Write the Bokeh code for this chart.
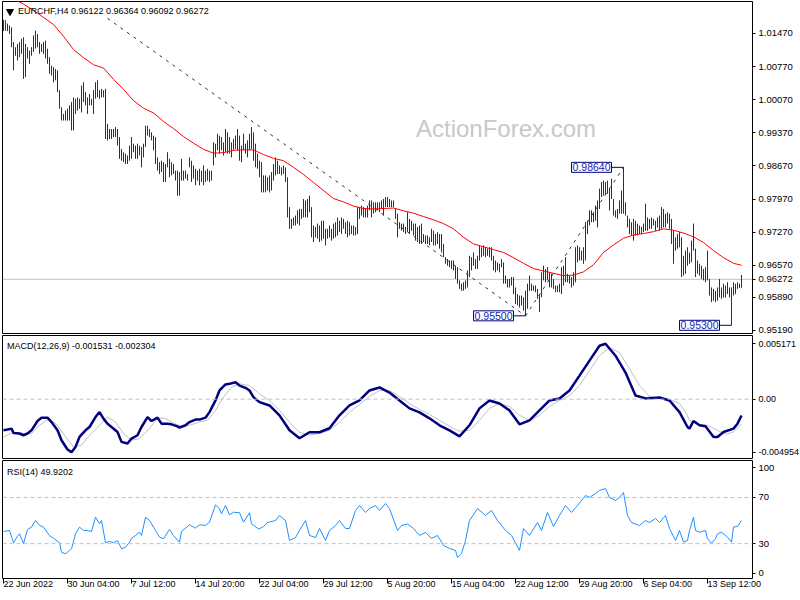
from bokeh.plotting import figure
from bokeh.layouts import column
from bokeh.models import Range1d, FixedTicker, Label, Span, PrintfTickFormatter
from bokeh.embed import file_html
from bokeh.resources import INLINE

# ---------------- data ----------------
symbol_title = "EURCHF,H4  0.96122 0.96364 0.96092 0.96272"
last_price = 0.96272

highs = [
1.0176,1.0175,1.0168,1.0164,1.0160,1.0129,1.0118,1.0125,1.0129,1.0136,
1.0139,1.0125,1.0118,1.0111,1.0118,1.0143,1.0153,1.0146,1.0129,1.0125,
1.0129,1.0132,1.0115,1.0097,1.0079,1.0076,1.0072,1.0069,1.0027,0.9991,
0.9977,0.9984,0.9988,0.9995,1.0002,1.0012,1.0009,1.0012,1.0009,1.0037,
1.0044,1.0023,1.0012,1.0019,1.0009,1.0027,1.0044,1.0048,1.0027,1.0030,
1.0027,1.0030,0.9956,0.9945,0.9945,0.9945,0.9949,0.9945,0.9928,0.9903,
0.9896,0.9893,0.9889,0.9910,0.9928,0.9914,0.9910,0.9914,0.9910,0.9907,
0.9914,0.9952,0.9952,0.9945,0.9938,0.9931,0.9928,0.9885,0.9875,0.9878,
0.9875,0.9871,0.9896,0.9882,0.9875,0.9871,0.9857,0.9857,0.9854,0.9882,
0.9857,0.9857,0.9850,0.9885,0.9878,0.9868,0.9861,0.9857,0.9861,0.9857,
0.9868,0.9857,0.9861,0.9857,0.9857,0.9917,0.9914,0.9935,0.9931,0.9928,
0.9917,0.9945,0.9938,0.9928,0.9917,0.9924,0.9931,0.9945,0.9931,0.9910,
0.9935,0.9914,0.9921,0.9935,0.9949,0.9938,0.9914,0.9893,0.9878,0.9875,
0.9847,0.9847,0.9843,0.9847,0.9854,0.9871,0.9885,0.9878,0.9868,0.9864,
0.9868,0.9864,0.9843,0.9780,0.9755,0.9758,0.9762,0.9773,0.9776,0.9776,
0.9797,0.9794,0.9797,0.9804,0.9780,0.9741,0.9738,0.9745,0.9741,0.9751,
0.9751,0.9734,0.9734,0.9741,0.9734,0.9745,0.9748,0.9758,0.9751,0.9758,
0.9755,0.9748,0.9751,0.9748,0.9741,0.9741,0.9738,0.9780,0.9780,0.9783,
0.9780,0.9776,0.9783,0.9794,0.9794,0.9790,0.9790,0.9790,0.9790,0.9794,
0.9797,0.9801,0.9801,0.9797,0.9794,0.9794,0.9776,0.9766,0.9748,0.9745,
0.9745,0.9738,0.9769,0.9755,0.9751,0.9745,0.9745,0.9738,0.9741,0.9745,
0.9723,0.9720,0.9720,0.9716,0.9734,0.9730,0.9723,0.9727,0.9723,0.9723,
0.9702,0.9674,0.9670,0.9667,0.9667,0.9667,0.9656,0.9653,0.9625,0.9618,
0.9621,0.9625,0.9646,0.9677,0.9674,0.9684,0.9670,0.9677,0.9699,0.9695,
0.9699,0.9695,0.9692,0.9695,0.9695,0.9677,0.9667,0.9663,0.9660,0.9670,
0.9663,0.9635,0.9628,0.9628,0.9632,0.9632,0.9610,0.9596,0.9593,0.9593,
0.9589,0.9603,0.9618,0.9635,0.9618,0.9614,0.9614,0.9607,0.9596,0.9642,
0.9656,0.9649,0.9653,0.9642,0.9639,0.9628,0.9614,0.9614,0.9618,0.9653,
0.9656,0.9674,0.9639,0.9635,0.9632,0.9642,0.9695,0.9699,0.9695,0.9688,
0.9695,0.9748,0.9751,0.9773,0.9773,0.9769,0.9783,0.9794,0.9819,0.9833,
0.9836,0.9833,0.9836,0.9819,0.9840,0.9797,0.9773,0.9776,0.9794,0.9815,
0.9864,0.9790,0.9762,0.9755,0.9748,0.9755,0.9751,0.9745,0.9741,0.9738,
0.9745,0.9787,0.9758,0.9755,0.9758,0.9755,0.9751,0.9758,0.9762,0.9780,
0.9776,0.9766,0.9769,0.9766,0.9755,0.9730,0.9716,0.9723,0.9727,0.9716,
0.9677,0.9688,0.9695,0.9684,0.9709,0.9745,0.9692,0.9667,0.9660,0.9656,
0.9649,0.9653,0.9688,0.9628,0.9610,0.9607,0.9603,0.9610,0.9628,0.9610,
0.9618,0.9614,0.9621,0.9610,0.9610,0.9621,0.9618,0.9621,0.9618,0.96364,
]

lows = [
1.0152,1.0153,1.0152,1.0146,1.0118,1.0069,1.0100,1.0090,1.0097,1.0104,
1.0051,1.0055,1.0094,1.0083,1.0100,1.0108,1.0115,1.0118,1.0104,1.0108,
1.0104,1.0094,1.0083,1.0062,1.0058,1.0044,1.0048,1.0023,0.9988,0.9963,
0.9963,0.9963,0.9963,0.9963,0.9942,0.9942,0.9977,0.9984,0.9988,0.9980,
1.0002,0.9995,0.9977,0.9995,0.9995,0.9977,1.0009,1.0012,1.0009,1.0012,
1.0012,0.9924,0.9921,0.9924,0.9924,0.9928,0.9928,0.9910,0.9882,0.9878,
0.9875,0.9871,0.9871,0.9878,0.9882,0.9896,0.9882,0.9882,0.9889,0.9864,
0.9885,0.9907,0.9931,0.9928,0.9921,0.9900,0.9871,0.9857,0.9850,0.9854,
0.9833,0.9833,0.9864,0.9843,0.9847,0.9850,0.9836,0.9804,0.9804,0.9836,
0.9836,0.9840,0.9836,0.9864,0.9833,0.9840,0.9826,0.9836,0.9826,0.9833,
0.9826,0.9833,0.9836,0.9833,0.9836,0.9868,0.9885,0.9900,0.9893,0.9900,
0.9889,0.9896,0.9893,0.9893,0.9885,0.9900,0.9903,0.9900,0.9878,0.9875,
0.9900,0.9893,0.9885,0.9900,0.9903,0.9878,0.9864,0.9861,0.9843,0.9811,
0.9811,0.9811,0.9815,0.9811,0.9815,0.9836,0.9847,0.9850,0.9850,0.9847,
0.9850,0.9833,0.9758,0.9734,0.9734,0.9741,0.9741,0.9745,0.9741,0.9755,
0.9758,0.9758,0.9758,0.9769,0.9716,0.9706,0.9716,0.9713,0.9706,0.9709,
0.9713,0.9699,0.9713,0.9716,0.9709,0.9713,0.9716,0.9720,0.9727,0.9723,
0.9734,0.9723,0.9716,0.9720,0.9723,0.9720,0.9720,0.9723,0.9755,0.9762,
0.9758,0.9758,0.9758,0.9773,0.9758,0.9766,0.9769,0.9773,0.9769,0.9776,
0.9762,0.9780,0.9780,0.9780,0.9780,0.9780,0.9755,0.9716,0.9734,0.9730,
0.9727,0.9723,0.9727,0.9723,0.9730,0.9720,0.9709,0.9706,0.9702,0.9702,
0.9706,0.9702,0.9702,0.9699,0.9706,0.9699,0.9699,0.9702,0.9692,0.9684,
0.9674,0.9660,0.9656,0.9653,0.9649,0.9646,0.9628,0.9618,0.9607,0.9603,
0.9603,0.9607,0.9610,0.9632,0.9646,0.9656,0.9649,0.9649,0.9667,0.9674,
0.9677,0.9674,0.9677,0.9674,0.9667,0.9646,0.9642,0.9646,0.9642,0.9653,
0.9618,0.9618,0.9610,0.9610,0.9614,0.9596,0.9575,0.9572,0.9568,0.9572,
0.9561,0.9550,0.9565,0.9603,0.9603,0.9603,0.9600,0.9586,0.9558,0.9589,
0.9625,0.9621,0.9625,0.9610,0.9610,0.9607,0.9600,0.9600,0.9600,0.9596,
0.9614,0.9621,0.9621,0.9618,0.9610,0.9614,0.9621,0.9663,0.9667,0.9667,
0.9660,0.9667,0.9723,0.9741,0.9748,0.9748,0.9751,0.9737,0.9776,0.9801,
0.9804,0.9808,0.9808,0.9773,0.9797,0.9762,0.9758,0.9755,0.9766,0.9766,
0.9766,0.9762,0.9737,0.9723,0.9720,0.9709,0.9720,0.9720,0.9723,0.9723,
0.9727,0.9730,0.9730,0.9734,0.9734,0.9741,0.9730,0.9737,0.9730,0.9734,
0.9737,0.9737,0.9745,0.9734,0.9702,0.9660,0.9688,0.9692,0.9695,0.9632,
0.9635,0.9639,0.9656,0.9660,0.9663,0.9688,0.9632,0.9639,0.9635,0.9628,
0.9625,0.9621,0.9625,0.9593,0.9579,0.9582,0.9579,0.9582,0.9589,0.9586,
0.9589,0.9589,0.9596,0.9589,0.9530,0.9593,0.9596,0.9607,0.9609,0.96092,
]
bar_idx = list(range(len(highs)))

# red moving average, sampled every 5 bars
ma_idx = list(range(0, 370, 5)) + [369]
ma_val = [
1.0234,1.0221,1.0209,1.0196,1.0181,1.0166,1.0141,1.0113,1.0096,1.0081,
1.0074,1.0050,1.0029,1.0005,0.9989,0.9979,0.9961,0.9946,0.9929,0.9915,
0.9902,0.9894,0.9895,0.9900,0.9901,0.9901,0.9891,0.9883,0.9878,0.9864,
0.9849,0.9832,0.9815,0.9798,0.9791,0.9782,0.9777,0.9776,0.9777,0.9778,
0.9772,0.9767,0.9760,0.9753,0.9745,0.9734,0.9716,0.9702,0.9696,0.9690,
0.9684,0.9673,0.9661,0.9650,0.9645,0.9640,0.9635,0.9636,0.9643,0.9658,
0.9684,0.9700,0.9714,0.9721,0.9724,0.9728,0.9734,0.9731,0.9725,0.9717,
0.9705,0.9688,0.9673,0.9661,0.9657,
]

# trendlines (bar index, price)
trend1_idx = [52, 261]
trend1_val = [1.0179, 0.9550]
trend2_idx = [261, 310]
trend2_val = [0.9550, 0.9864]

# price labels
mark_idx = [310, 261, 364]
mark_val = [0.9864, 0.9550, 0.9530]
mark_txt = ["0.98640", "0.95500", "0.95300"]

price_ticks = [1.0147, 1.0077, 1.0007, 0.9937, 0.9867, 0.9797, 0.9727, 0.9657, 0.9589, 0.9519]

# MACD(12,26,9)
macd_title = "MACD(12,26,9) -0.001531 -0.002304"
macd_idx = [0,2,4,5,8,10,12,14,17,19,22,24,27,29,32,34,36,38,41,43,46,48,50,52,54,57,59,62,64,67,
            69,72,74,77,79,82,84,87,88,91,93,96,98,101,103,106,108,111,113,116,118,121,123,125,128,
            133,138,143,148,153,158,163,168,173,178,183,188,193,198,203,208,213,218,223,228,233,238,
            243,248,253,258,263,268,273,278,283,288,293,298,301,306,311,316,321,328,333,338,342,343,
            345,348,351,355,357,360,365,367,369]
macd_val = [-0.00291,-0.00284,-0.00275,-0.00316,-0.00321,-0.00337,-0.00321,-0.00291,-0.00204,-0.00173,
            -0.00173,-0.00214,-0.00291,-0.00384,-0.00470,-0.00495,-0.00446,-0.00353,-0.00291,-0.00260,
            -0.00167,-0.00121,-0.00182,-0.00229,-0.00260,-0.00307,-0.00399,-0.00414,-0.00368,-0.00337,
            -0.00260,-0.00167,-0.00204,-0.00173,-0.00229,-0.00229,-0.00235,-0.00254,-0.00266,-0.00244,
            -0.00214,-0.00191,-0.00191,-0.00173,-0.00121,-0.00012,0.00081,0.00137,0.00143,0.00158,
            0.00127,0.00106,0.00081,0.00019,-0.00028,-0.00059,-0.00151,-0.00291,-0.00365,-0.00309,
            -0.00309,-0.00272,-0.00151,-0.00059,-0.00012,0.00081,0.00109,0.00062,-0.00012,-0.00086,
            -0.00124,-0.00179,-0.00244,-0.00291,-0.00347,-0.00244,-0.00086,-0.00012,-0.00040,-0.00105,
            -0.00235,-0.00198,-0.00105,-0.00012,0.00007,0.00081,0.00220,0.00360,0.00499,0.00517,
            0.00406,0.00248,0.00034,0.00007,0.00016,-0.00012,-0.00121,-0.00260,-0.00275,-0.00204,
            -0.00244,-0.00254,-0.00353,-0.00353,-0.00307,-0.00275,-0.00229,-0.00153]
sig_idx = [0,5,10,14,18,23,27,31,35,39,43,48,52,56,60,64,68,73,77,81,85,89,93,98,102,106,110,114,118,123,
           128,133,138,143,148,153,158,163,168,173,178,183,188,193,198,203,208,213,218,223,228,233,238,
           243,248,253,258,263,268,273,278,283,288,293,298,303,308,313,318,323,328,333,338,341,343,347,
           352,357,361,365,369]
sig_val = [-0.00353,-0.00307,-0.00321,-0.00321,-0.00244,-0.00182,-0.00244,-0.00353,-0.00446,-0.00430,
           -0.00337,-0.00244,-0.00167,-0.00214,-0.00321,-0.00384,-0.00368,-0.00275,-0.00173,-0.00182,
           -0.00223,-0.00254,-0.00244,-0.00214,-0.00198,-0.00105,0.00019,0.00111,0.00143,0.00127,
           0.00050,-0.00012,-0.00105,-0.00216,-0.00309,-0.00337,-0.00319,-0.00291,-0.00216,-0.00124,
           -0.00049,0.00025,0.00081,0.00081,0.00025,-0.00040,-0.00096,-0.00142,-0.00198,-0.00254,
           -0.00300,-0.00291,-0.00198,-0.00086,-0.00040,-0.00068,-0.00151,-0.00198,-0.00151,-0.00068,
           -0.00012,0.00034,0.00127,0.00267,0.00406,0.00480,0.00434,0.00285,0.00127,0.00025,
           0.00007,-0.00003,-0.00040,-0.00121,-0.00198,-0.00235,-0.00244,-0.00291,-0.00328,-0.00307,
           -0.00230]
macd_ticks = [0.005171, 0, -0.004954]
macd_tick_labels = {0.005171: "0.005171", 0: "0.00", -0.004954: "-0.004954"}

# RSI(14)
rsi_title = "RSI(14) 49.9202"
rsi_idx = [0,3,5,7,8,10,12,14,16,18,20,23,25,28,29,31,33,34,36,38,
           40,42,44,46,48,49,51,53,55,57,59,61,63,64,66,68,69,71,73,76,
           78,80,83,85,88,89,91,93,96,98,101,103,106,108,109,111,113,115,118,120,
           123,124,127,128,130,132,136,138,141,143,146,148,151,153,156,158,161,163,166,168,
           171,173,176,178,181,183,186,188,191,193,197,199,202,205,208,211,214,217,220,223,
           226,227,229,231,233,237,241,244,247,251,254,258,260,263,267,269,272,275,278,281,
           284,287,291,293,296,298,301,303,306,308,310,312,314,318,321,323,326,328,331,333,
           336,338,340,342,343,345,346,348,351,352,354,356,357,359,361,362,364,365,367,369]
rsi_val = [40.5,41.4,30.8,36.5,38.5,29.9,42.3,44.3,50.1,45.8,44.3,37.0,34.7,30.8,22.5,21.2,24.1,25.5,38.5,44.3,
           41.4,41.4,40.5,52.9,47.2,50.1,30.8,31.9,30.8,32.7,25.5,26.9,31.2,34.7,37.0,40.0,37.0,52.9,50.1,41.4,
           35.6,34.2,42.3,37.0,31.2,40.5,43.4,46.3,43.4,46.3,45.8,48.6,63.6,60.2,55.8,63.1,55.0,57.2,56.8,48.6,
           56.8,47.2,43.4,42.9,44.8,48.3,50.0,54.4,50.0,32.7,35.3,41.4,50.0,37.1,35.3,43.1,32.7,41.4,45.7,50.0,
           43.1,43.1,58.7,63.0,57.0,60.4,63.0,58.7,64.8,60.4,41.4,45.7,47.0,43.1,37.1,39.7,34.5,37.1,28.4,25.8,
           24.1,18.0,21.5,32.7,50.0,60.4,54.4,58.7,50.0,41.4,37.1,24.1,43.1,37.1,48.3,41.4,57.0,44.8,54.4,63.0,
           57.0,63.0,71.7,70.0,73.4,76.0,77.7,70.0,67.4,70.0,74.3,54.4,48.3,45.7,50.0,48.3,51.8,48.3,54.4,43.1,
           32.7,41.4,31.3,32.7,41.4,52.9,41.4,39.9,41.4,34.2,30.4,34.2,38.5,39.9,37.0,35.6,31.3,44.3,44.9,49.9]
rsi_levels = [70, 30]
# the terminal clamps its 100 / 0 captions inside the indicator window
rsi_ticks = [95.9, 70, 30, 4.2]
rsi_tick_labels = {95.9: "100", 70: "70", 30: "30", 4.2: "0"}

date_ticks = [0, 32, 64, 96, 128, 160, 192, 224, 256, 288, 320, 352]
date_labels = ["22 Jun 2022", "30 Jun 04:00", "7 Jul 12:00", "14 Jul 20:00", "22 Jul 04:00",
               "29 Jul 12:00", "5 Aug 20:00", "15 Aug 04:00", "22 Aug 12:00", "29 Aug 20:00",
               "6 Sep 04:00", "13 Sep 12:00"]

# ---------------- styling ----------------
FONT = "Liberation Sans"
FS = "9px"
BAR_COLOR = "#0f3a5c"
FRAME_W = 750
xr = Range1d(-0.5, -0.5 + FRAME_W / 2.0)   # 2 px per H4 bar


def panel(fh, y0, y1, bottom_axis=False, ysize="9.5px"):
    p = figure(frame_width=FRAME_W, frame_height=fh, x_range=xr, y_range=Range1d(y0, y1),
               output_backend="svg", toolbar_location=None, tools="",
               x_axis_location="below" if bottom_axis else None, y_axis_location="right",
               min_border_left=2, min_border_right=48, min_border_top=1,
               min_border_bottom=22 if bottom_axis else 1)
    p.outline_line_color = "black"
    p.outline_line_width = 1
    p.outline_line_alpha = 1
    p.grid.visible = False
    p.background_fill_color = "white"
    p.border_fill_color = "white"
    ax = p.yaxis[0]
    ax.axis_line_color = None
    ax.major_tick_out = 3
    ax.major_tick_in = 0
    ax.minor_tick_out = 0
    ax.minor_tick_in = 0
    ax.major_tick_line_color = "black"
    ax.major_label_standoff = 3
    ax.major_label_text_font = FONT
    ax.major_label_text_font_size = ysize
    ax.major_label_text_color = "black"
    return p


# ---------- main price panel ----------
p1 = panel(332, 0.951265, 1.021466)
p1.yaxis[0].ticker = FixedTicker(ticks=price_ticks + [last_price])
p1.yaxis[0].formatter = PrintfTickFormatter(format="%.5f")

p1.add_layout(Span(location=last_price, dimension="width", line_color="#c0c0c0",
                   line_width=1, level="underlay"))
p1.add_layout(Label(x=251.25, y=0.99461, text="ActionForex.com", text_align="center",
                    text_baseline="middle", text_font=FONT, text_font_size="24px",
                    text_color="#c8c8c8", level="underlay"))

p1.line(trend1_idx, trend1_val, line_color="#303030", line_width=1, line_dash="3 5")
p1.line(trend2_idx, trend2_val, line_color="#303030", line_width=1, line_dash="3 5")
p1.segment(x0=bar_idx, y0=lows, x1=bar_idx, y1=highs, line_color=BAR_COLOR, line_width=1)
p1.line(ma_idx, ma_val, line_color="#ff0000", line_width=1)

for bi, bv, bt in zip(mark_idx, mark_val, mark_txt):
    p1.segment(x0=[bi - 6], y0=[bv], x1=[bi], y1=[bv], line_color="#000080", line_width=1)
    p1.add_layout(Label(x=bi - 6, y=bv, text=bt, text_align="right", text_baseline="middle",
                        text_font=FONT, text_font_size="10.5px", text_color="#1a1ab4",
                        background_fill_color="white", border_line_color="#000080",
                        border_line_width=1, padding=1))

p1.scatter([3.25], [1.01935], marker="inverted_triangle", size=7, color="black")
p1.add_layout(Label(x=7.25, y=1.02041, text=symbol_title, text_align="left", text_baseline="top",
                    text_font=FONT, text_font_size=FS, text_color="black"))

# ---------- MACD panel ----------
p2 = panel(123, -0.005543, 0.005946, ysize="9px")
p2.yaxis[0].ticker = FixedTicker(ticks=macd_ticks)
p2.yaxis[0].major_label_overrides = macd_tick_labels
p2.add_layout(Span(location=0, dimension="width", line_color="#c0c0c0", line_width=1,
                   line_dash="4 3"))
p2.line(sig_idx, sig_val, line_color="#c0c0c0", line_width=1)
p2.line(macd_idx, macd_val, line_color="#000080", line_width=2.5)
p2.add_layout(Label(x=1.75, y=0.005386, text=macd_title, text_align="left", text_baseline="top",
                    text_font=FONT, text_font_size=FS, text_color="black"))

# ---------- RSI panel ----------
p3 = panel(118, -0.2, 102.0, bottom_axis=True)
p3.yaxis[0].ticker = FixedTicker(ticks=rsi_ticks)
p3.yaxis[0].major_label_overrides = rsi_tick_labels
for lv in rsi_levels:
    p3.add_layout(Span(location=lv, dimension="width", line_color="#c0c0c0", line_width=1,
                       line_dash="4 3"))
p3.line(rsi_idx, rsi_val, line_color="#1e90ff", line_width=1)
p3.add_layout(Label(x=1.75, y=96.8, text=rsi_title, text_align="left", text_baseline="top",
                    text_font=FONT, text_font_size=FS, text_color="black"))

xa = p3.xaxis[0]
xa.ticker = FixedTicker(ticks=date_ticks)
xa.major_label_overrides = dict(zip(date_ticks, date_labels))
xa.axis_line_color = None
xa.major_tick_out = 5
xa.major_tick_in = 0
xa.minor_tick_out = 0
xa.minor_tick_in = 0
xa.major_tick_line_color = "black"
xa.major_label_standoff = 0
xa.major_label_orientation = -0.0001   # tiny clockwise angle -> labels start at their tick
xa.major_label_text_font = FONT
xa.major_label_text_font_size = FS
xa.major_label_text_color = "black"

layout = column(p1, p2, p3, spacing=0)
open("out.html", "w").write(file_html(layout, INLINE))
